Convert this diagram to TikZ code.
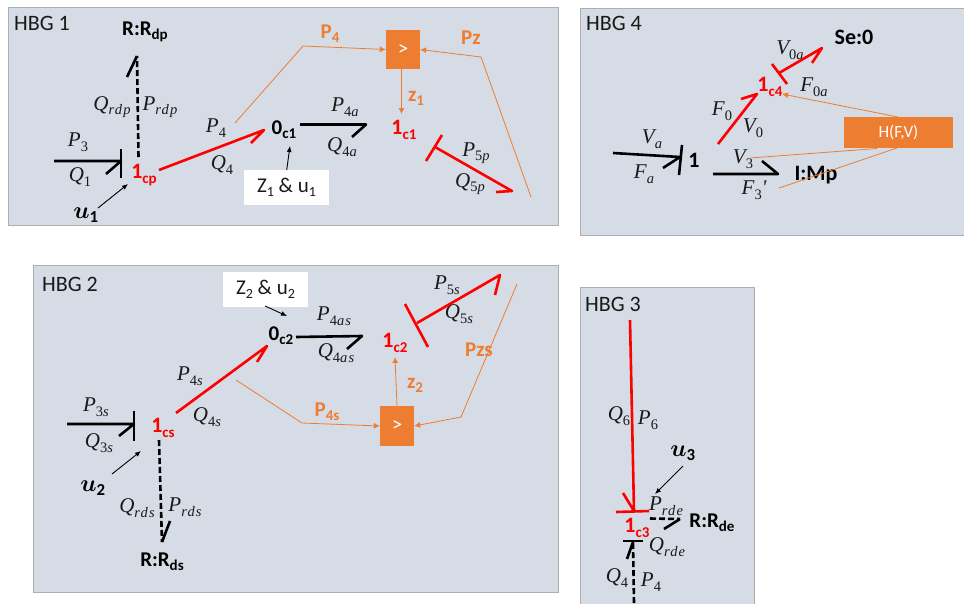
\documentclass[tikz,border=0pt]{standalone}
\usepackage{fix-cm}
\usepackage{amsmath,bm}
\usepackage{fontspec}
\setmainfont{Carlito}
\newfontfamily\mmain{Liberation Serif}
\newfontfamily\msub[LetterSpace=8]{Liberation Serif}
\usetikzlibrary{arrows.meta}
\definecolor{panelfill}{HTML}{D6DCE5}
\definecolor{panelline}{HTML}{AEAEAE}
\definecolor{orng}{HTML}{ED7D31}
\definecolor{bondred}{HTML}{FF0000}
\newcommand{\sbs}[1]{\raisebox{-0.4ex}{\fontsize{15}{15}\selectfont #1}}
\newcommand{\sbn}[1]{\raisebox{-0.45ex}{\fontsize{14}{14}\selectfont #1}}
\newcommand{\uD}[1]{\upshape #1\itshape}
\newcommand{\mv}[2]{{\mmain\itshape #1}\raisebox{-0.45ex}{\msub\fontsize{14.5}{15}\selectfont\itshape #2}}
\tikzset{
  panel/.style={draw=panelline,fill=panelfill,line width=1pt},
  title/.style={font=\fontsize{22}{24}\selectfont,text=black!90,inner sep=0pt},
  bond/.style={line width=2.6pt,black,line join=round},
  rbond/.style={line width=2.6pt,bondred,line join=round},
  dbond/.style={line width=2.6pt,black,dash pattern=on 6pt off 3pt},
  sig/.style={line width=0.8pt,orng,line join=round},
  sigarrow/.style={sig,-{Latex[length=6pt,width=6pt]}},
  karrow/.style={line width=0.9pt,black,-{Latex[length=6pt,width=5pt]}},
  mlabel/.style={font=\fontsize{21}{22}\selectfont,text=black!90,inner sep=0pt},
  ulabel/.style={font=\fontsize{24}{26}\selectfont,text=black,inner sep=0pt},
  blabel/.style={font=\fontsize{21}{22}\selectfont\bfseries,text=black,inner sep=0pt},
  rlabel/.style={font=\fontsize{22}{24}\selectfont\bfseries,text=bondred,inner sep=0pt},
  olabel/.style={font=\fontsize{21}{22}\selectfont\bfseries,text=orng,inner sep=0pt},
  whitebox/.style={fill=white,inner sep=0pt,font=\fontsize{21}{22}\selectfont,text=black!90},
  orangebox/.style={fill=orng,inner sep=0pt,font=\fontsize{21}{22}\selectfont,text=white},
}
\begin{document}
\begin{tikzpicture}[x=1pt,y=-1pt]
\useasboundingbox (0,0) rectangle (964,603);
\fill[white] (0,0) rectangle (964,603);
% panels
\draw[panel] (8,7) rectangle (558,225);
\draw[panel] (580,8) rectangle (964,235);
\draw[panel] (33,265) rectangle (558,592);
\draw[panel] (580,287) rectangle (754,610);
\node[title] (t1) at (42,23) {HBG 1};
\node[title] (t4) at (614,23) {HBG 4};
\node[title] (t2) at (70,284) {HBG 2};
\node[title] (t3) at (613,304) {HBG 3};

% ---------- HBG 1
\node[blabel] (rdp) at (145,32) {R:R\sbs{dp}};
\node[rlabel] (cp) at (144,175) {1\sbs{cp}};
\node[blabel] (oc1) at (284,130) {0\sbs{c1}};
\node[rlabel] (ic1) at (404,130) {1\sbs{c1}};
\node[whitebox,minimum width=85pt,minimum height=35pt] (zu1) at (286.5,187.5) {Z\sbn{1} \& u\sbn{1}};
\node[orangebox,minimum width=34pt,minimum height=39pt] (cmp1) at (403,49.5) {>};
\node[mlabel] (l1) at (78,142) {\mv{P}{\uD3}};
\node[mlabel] (l2) at (80,177) {\mv{Q}{\uD1}};
\node[mlabel] (l3) at (112,107) {\mv{Q}{rdp}};
\node[mlabel] (l4) at (160,107) {\mv{P}{rdp}};
\node[mlabel] (l5) at (216,128) {\mv{P}{\uD4}};
\node[mlabel] (l6) at (222,165) {\mv{Q}{\uD4}};
\node[mlabel] (l7) at (345,107) {\mv{P}{\uD4a}};
\node[mlabel] (l8) at (342,147) {\mv{Q}{\uD4a}};
\node[mlabel] (l9) at (476,153) {\mv{P}{\uD5p}};
\node[mlabel] (l10) at (470,184) {\mv{Q}{\uD5p}};
\node[ulabel] (u1) at (86,215) {$\bm{u}_{\mathbf{1}}$};
\node[olabel] (op4) at (330,34) {P\sbs{4}};
\node[olabel] (opz) at (471,38) {Pz};
\node[olabel] (oz1) at (416,98) {z\sbs{1}};
\coordinate (a1) at (54,161); \coordinate (a2) at (121,161); \coordinate (a3) at (106,174);
\coordinate (a4) at (121,149); \coordinate (a5) at (121,178);
\draw[bond] (a1) -- (a2) -- (a3);
\draw[bond] (a4) -- (a5);
\coordinate (b1) at (138.5,157); \coordinate (b2) at (137,56); \coordinate (b3) at (127,77);
\draw[dbond] (b1) -- (b2);
\draw[bond] (b2) -- (b3);
\coordinate (c1) at (159,170); \coordinate (c2) at (264,130); \coordinate (c3) at (251,143);
\draw[rbond] (c1) -- (c2) -- (c3);
\coordinate (d1) at (300,124.5); \coordinate (d2) at (366,124.5); \coordinate (d3) at (352,137);
\draw[bond] (d1) -- (d2) -- (d3);
\coordinate (e1) at (435,147); \coordinate (e2) at (512,191); \coordinate (e3) at (496,192);
\coordinate (e4) at (442,135); \coordinate (e5) at (426,161);
\draw[rbond] (e1) -- (e2) -- (e3);
\draw[rbond] (e4) -- (e5);
\coordinate (f1) at (98,208); \coordinate (f2) at (128,184);
\draw[karrow] (f1) -- (f2);
\coordinate (g1) at (286.7,170); \coordinate (g2) at (290,146);
\draw[karrow] (g1) -- (g2);
\coordinate (h1) at (235,123); \coordinate (h2) at (303,46);
\draw[sigarrow] (h1) -- (h2) -- (cmp1.west);
\coordinate (i1) at (531,197); \coordinate (i2) at (481,57);
\draw[sigarrow] (i1) -- (i2) -- (cmp1.east);
\coordinate (j1) at (401.5,69); \coordinate (j2) at (401.5,114);
\draw[sigarrow] (j1) -- (j2);

% ---------- HBG 4
\node[blabel,font=\fontsize{22}{24}\selectfont\bfseries] (se) at (854,37) {Se:0};
\node[rlabel] (c4) at (770,87) {1\sbs{c4}};
\node[blabel,font=\fontsize{22}{24}\selectfont\bfseries] (one) at (694,160) {1};
\node[blabel,font=\fontsize{22}{24}\selectfont\bfseries] (imp) at (816,175) {I:Mp};
\node[orangebox,minimum width=109pt,minimum height=31pt,font=\fontsize{17}{18}\selectfont] (hfv) at (898.5,132.5) {H(F,V)};
\node[mlabel] (m1) at (652,139) {\mv{V}{a}};
\node[mlabel] (m2) at (644,174) {\mv{F}{a}};
\node[mlabel] (m3) at (722,111) {\mv{F}{\uD0}};
\node[mlabel] (m4) at (753,128) {\mv{V}{\uD0}};
\node[mlabel] (m5) at (790,50) {\mv{V}{\uD0a}};
\node[mlabel] (m6) at (814,87) {\mv{F}{\uD0a}};
\node[mlabel] (m7) at (743,159) {\mv{V}{\uD3}};
\node[mlabel] (m8) at (754,190) {\mv{F}{\uD3}{\mmain\itshape'}};
\coordinate (k1) at (613,153); \coordinate (k2) at (680,157); \coordinate (k3) at (663,168);
\coordinate (k4) at (682,145); \coordinate (k5) at (679,175);
\draw[bond] (k1) -- (k2) -- (k3);
\draw[bond] (k4) -- (k5);
\coordinate (n1) at (718,144); \coordinate (n2) at (757,94); \coordinate (n3) at (741,99);
\draw[rbond] (n1) -- (n2) -- (n3);
\coordinate (o1) at (779,73); \coordinate (o2) at (822,48); \coordinate (o3) at (812,63);
\coordinate (o4) at (772,64); \coordinate (o5) at (787,84);
\draw[rbond] (o1) -- (o2) -- (o3);
\draw[rbond] (o4) -- (o5);
\coordinate (p1) at (713,174); \coordinate (p2) at (778,174); \coordinate (p3) at (762,161);
\draw[bond] (p1) -- (p2) -- (p3);
\coordinate (q1) at (898,117); \coordinate (q2) at (782,94);
\draw[sigarrow] (q1) -- (q2);
\coordinate (r1) at (750,158); \coordinate (r2) at (877,148.5);
\draw[sig] (r1) -- (r2);
\coordinate (s1) at (779,188); \coordinate (s2) at (897,148);
\draw[sig] (s1) -- (s2);

% ---------- HBG 2
\node[whitebox,minimum width=85pt,minimum height=35pt] (zu2) at (265.5,289.5) {Z\sbn{2} \& u\sbn{2}};
\node[blabel] (oc2) at (281,336) {0\sbs{c2}};
\node[rlabel] (ic2) at (395,343) {1\sbs{c2}};
\node[rlabel] (cs) at (163,428) {1\sbs{cs}};
\node[blabel] (rds) at (162,562) {R:R\sbs{ds}};
\node[orangebox,minimum width=34pt,minimum height=40pt] (cmp2) at (397,426) {>};
\node[mlabel] (w1) at (96,407) {\mv{P}{\uD3s}};
\node[mlabel] (w2) at (99,443) {\mv{Q}{\uD3s}};
\node[mlabel] (w3) at (190,376) {\mv{P}{\uD4s}};
\node[mlabel] (w4) at (207,417) {\mv{Q}{\uD4s}};
\node[mlabel] (w5) at (137,508) {\mv{Q}{rds}};
\node[mlabel] (w6) at (185,507) {\mv{P}{rds}};
\node[mlabel] (w7) at (334,316) {\mv{P}{\uD4as}};
\node[mlabel] (w8) at (336,353) {\mv{Q}{\uD4as}};
\node[mlabel] (w9) at (447,285) {\mv{P}{\uD5s}};
\node[mlabel] (w10) at (459,314) {\mv{Q}{\uD5s}};
\node[ulabel] (u2) at (93,488) {$\bm{u}_{\mathbf{2}}$};
\node[olabel] (op4s) at (327,412) {P\sbs{4s}};
\node[olabel] (opzs) at (479,350) {Pzs};
\node[olabel] (oz2) at (415,385) {z\sbs{2}};
\coordinate (A1) at (67,424); \coordinate (A2) at (134,424); \coordinate (A3) at (119,436);
\coordinate (A4) at (134,411); \coordinate (A5) at (134,441);
\draw[bond] (A1) -- (A2) -- (A3);
\draw[bond] (A4) -- (A5);
\coordinate (B1) at (176,413); \coordinate (B2) at (267,346); \coordinate (B3) at (257,362);
\draw[rbond] (B1) -- (B2) -- (B3);
\coordinate (C1) at (159,440); \coordinate (C2) at (162,542); \coordinate (C3) at (170,521);
\draw[dbond] (C1) -- (C2);
\draw[bond] (C2) -- (C3);
\coordinate (D1) at (296,337); \coordinate (D2) at (362,336); \coordinate (D3) at (347,349);
\draw[bond] (D1) -- (D2) -- (D3);
\coordinate (E1) at (417,323); \coordinate (E2) at (500,275); \coordinate (E3) at (495,295);
\coordinate (E4) at (405,304); \coordinate (E5) at (428,347);
\draw[rbond] (E1) -- (E2) -- (E3);
\draw[rbond] (E4) -- (E5);
\coordinate (F1) at (112,474); \coordinate (F2) at (141,451);
\draw[karrow] (F1) -- (F2);
\coordinate (G1) at (265,306); \coordinate (G2) at (287,316);
\draw[karrow] (G1) -- (G2);
\coordinate (H1) at (236,380); \coordinate (H2) at (302,423);
\draw[sigarrow] (H1) -- (H2) -- (cmp2.west);
\coordinate (I1) at (517,284); \coordinate (I2) at (461,417);
\draw[sigarrow] (I1) -- (I2) -- (cmp2.east);
\coordinate (J1) at (397,406); \coordinate (J2) at (395,357);
\draw[sigarrow] (J1) -- (J2);

% ---------- HBG 3
\node[rlabel] (c3) at (637,528) {1\sbs{c3}};
\node[blabel] (rde) at (712,523) {R:R\sbs{de}};
\node[mlabel] (y1) at (619,416) {\mv{Q}{\uD6}};
\node[mlabel] (y2) at (648,420) {\mv{P}{\uD6}};
\node[mlabel] (y3) at (666,506) {\mv{P}{rde}};
\node[mlabel] (y4) at (667,547) {\mv{Q}{rde}};
\node[mlabel] (y5) at (617,578) {\mv{Q}{\uD4}};
\node[mlabel] (y6) at (651,582) {\mv{P}{\uD4}};
\node[ulabel] (u3) at (683,453) {$\bm{u}_{\mathbf{3}}$};
\coordinate (K1) at (630,320); \coordinate (K2) at (634,511); \coordinate (K3) at (623,493);
\coordinate (K4) at (616,512); \coordinate (K5) at (649,511);
\draw[rbond] (K1) -- (K2) -- (K3);
\draw[rbond] (K4) -- (K5);
\coordinate (L1) at (650,518.5); \coordinate (L2) at (680,519); \coordinate (L3) at (664,529);
\draw[dbond] (L1) -- (L2);
\draw[bond] (L2) -- (L3);
\coordinate (M1) at (623,541); \coordinate (M2) at (643,541);
\draw[bond] (M1) -- (M2);
\coordinate (N1) at (634,603); \coordinate (N2) at (633,542); \coordinate (N3) at (627,559);
\draw[dbond] (N1) -- (N2);
\draw[bond] (N2) -- (N3);
\coordinate (O1) at (683,466); \coordinate (O2) at (655,494);
\draw[karrow] (O1) -- (O2);
\end{tikzpicture}
\end{document}
